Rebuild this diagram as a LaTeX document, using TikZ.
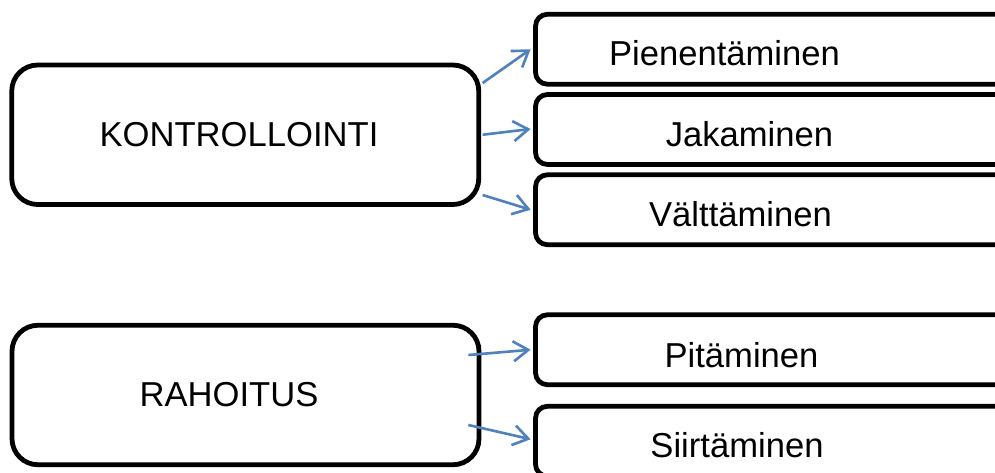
\documentclass[tikz,border=0pt]{standalone}
\usepackage{fontspec}
\setmainfont{Liberation Sans}
\usetikzlibrary{arrows.meta}
\definecolor{arrblue}{HTML}{4F81BD}
\begin{document}
\begin{tikzpicture}[x=1pt,y=1pt,
  bigbox/.style={draw=black,line width=4.8pt,rounded corners=26pt,minimum width=467pt,minimum height=139.5pt,inner sep=0pt},
  smallbox/.style={draw=black,line width=4.8pt,rounded corners=12pt,minimum width=500pt,minimum height=70pt,inner sep=0pt},
  lbl/.style={anchor=base,inner sep=0pt,font=\fontsize{34.6}{41}\selectfont},
  arr/.style={draw=arrblue,line width=2.6pt,-{Straight Barb[length=15pt,width=20pt,line width=2.6pt]}}]
\clip (0,0) rectangle (995,472);
\fill[white] (0,0) rectangle (995,472);
% boxes
\node[bigbox] (k) at (245.25,337.25) {};
\node[bigbox] (r) at (245.5,77) {};
\node[smallbox] (p1) at (785.5,422.75) {};
\node[smallbox] (p2) at (785.5,342.5) {};
\node[smallbox] (p3) at (785.5,262.25) {};
\node[smallbox] (p4) at (785.5,122.25) {};
\node[smallbox] (p5) at (785.5,30.75) {};
% labels
\node[lbl] (tk) at (239,325) {KONTROLLOINTI};
\node[lbl] (tr) at (229,66) {RAHOITUS};
\node[lbl] (t1) at (724.5,406) {Pienentäminen};
\node[lbl] (t2) at (749.5,325) {Jakaminen};
\node[lbl] (t3) at (740.5,246) {Välttäminen};
\node[lbl] (t4) at (741.5,105) {Pitäminen};
\node[lbl] (t5) at (737,15) {Siirtäminen};
% arrows
\draw[arr] ([xshift=1.5pt,yshift=51.75pt]k.east) -- ([xshift=-2.5pt]p1.west);
\draw[arr] ([xshift=1.5pt]k.east) -- ([xshift=-2.5pt,yshift=0.5pt]p2.west);
\draw[arr] ([xshift=1.5pt,yshift=-60.25pt]k.east) -- ([xshift=-2.5pt]p3.west);
\draw[arr] ([xshift=-13pt,yshift=40pt]r.east) -- ([xshift=-2.5pt]p4.west);
\draw[arr] ([xshift=-13pt,yshift=-30pt]r.east) -- ([xshift=-2.5pt,yshift=2pt]p5.west);
\end{tikzpicture}
\end{document}
